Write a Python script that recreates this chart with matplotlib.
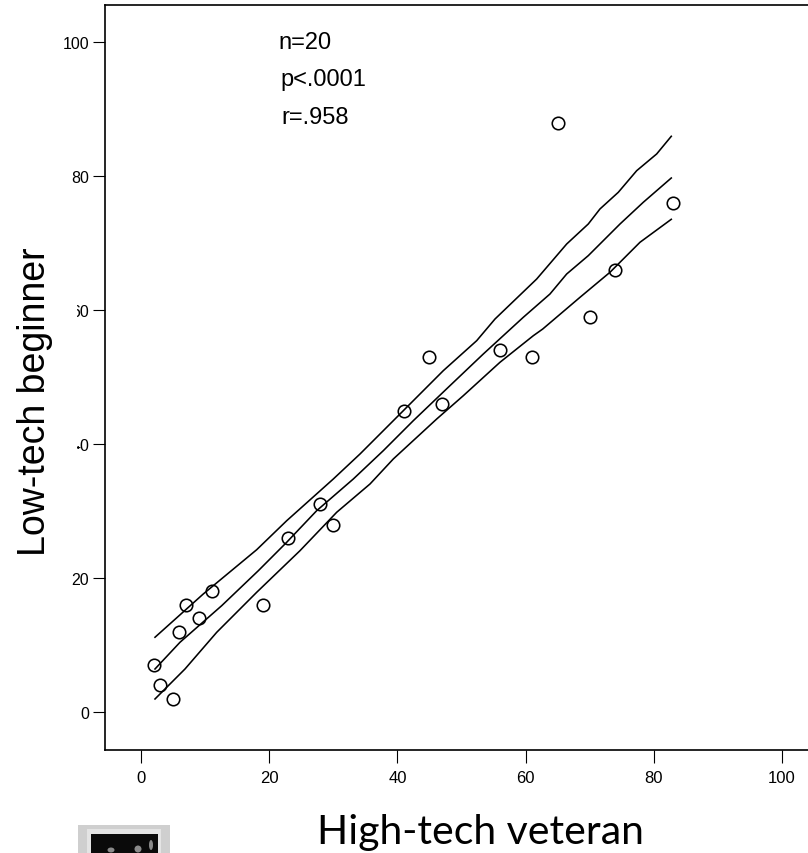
import matplotlib
matplotlib.use("Agg")
import matplotlib.pyplot as plt
from matplotlib.patches import Rectangle, Ellipse

# --- data ---
veteran = [2, 3, 5, 6, 7, 9, 11, 19, 23, 28, 30, 41, 45, 47, 56, 61, 65, 70, 74, 83]
beginner = [7, 4, 2, 12, 16, 14, 18, 16, 26, 31, 28, 45, 53, 46, 54, 53, 88, 59, 66, 76]

upper_x = [2.18, 9.72, 18.05, 22.73, 30.0, 34.17, 40.92, 47.16, 52.37, 55.23, 61.73, 66.41, 69.78, 71.6, 74.46, 77.33, 80.45, 82.73]
upper_y = [11.16, 17.63, 24.24, 28.57, 34.8, 38.54, 45.0, 50.98, 55.46, 58.7, 64.67, 69.9, 72.89, 75.13, 77.62, 80.85, 83.35, 85.99]
fit_x = [2.18, 6.08, 12.59, 18.3, 22.73, 27.41, 33.12, 37.8, 42.48, 48.2, 53.4, 59.64, 63.8, 66.41, 69.78, 74.73, 78.36, 82.73]
fit_y = [6.42, 10.41, 15.88, 21.1, 25.35, 30.07, 34.8, 39.03, 43.51, 48.74, 53.47, 58.95, 62.43, 65.42, 68.16, 72.89, 76.13, 79.76]
lower_x = [2.18, 6.86, 11.81, 18.05, 24.8, 30.53, 35.73, 39.36, 46.13, 50.28, 56.0, 61.2, 62.67, 68.49, 73.17, 77.85, 82.73]
lower_y = [1.94, 6.42, 11.9, 17.88, 24.09, 29.83, 34.06, 37.79, 43.76, 47.24, 52.23, 56.2, 57.2, 61.94, 65.68, 70.16, 73.59]

ticks = [0, 20, 40, 60, 80, 100]
tick_labels = ["0", "20", "40", "60", "80", "100"]
stats = ["n=20", "p<.0001", "r=.958"]
x_title = "High-tech veteran"
y_title = "Low-tech beginner"

W, H = 808, 854
plt.rcParams["font.family"] = ["Liberation Sans", "DejaVu Sans"]
fig = plt.figure(figsize=(W / 100, H / 100), dpi=100, facecolor="white")


def fx(p):
    return p / W


def fy(p):
    return 1 - p / H


ax = fig.add_axes([fx(105), fy(751), fx(808) - fx(105), fy(6) - fy(751)])
ax.set_xlim(-5.62, 104.06)
ax.set_ylim(-5.68, 105.6)

ax.plot(upper_x, upper_y, color="black", lw=1.15)
ax.plot(fit_x, fit_y, color="black", lw=1.15)
ax.plot(lower_x, lower_y, color="black", lw=1.15)
ax.plot(veteran, beginner, ls="none", marker="o", ms=9, mfc="none", mec="black", mew=1.15)

ax.spines["right"].set_visible(False)
for s in ("left", "top", "bottom"):
    ax.spines[s].set_linewidth(1.2)
    ax.spines[s].set_color("black")

ax.set_xticks(ticks, tick_labels)
ax.set_yticks(ticks, tick_labels)
ax.tick_params(axis="x", length=9.5, width=0.8, pad=5, labelsize=12)
ax.tick_params(axis="y", length=9, width=0.8, pad=2.5, labelsize=11.5)

ax.set_xlabel(x_title, family=["Lato", "DejaVu Sans"], fontsize=29.5)
ax.xaxis.set_label_coords(fx(480), fy(844), transform=fig.transFigure)
ax.xaxis.label.set_va("baseline")
ax.set_ylabel(y_title, fontsize=27)
ax.yaxis.set_label_coords(fx(45), fy(402), transform=fig.transFigure)
ax.yaxis.label.set_va("baseline")

for label, x_px, y_px in zip(stats, (278, 280, 281), (49, 86, 124.5)):
    fig.text(fx(x_px), fy(y_px), label, fontsize=17, ha="left", va="baseline")

# white masks that clip the first digit of the 60 and 40 tick labels
masks = ((60, 302, 77, 322), (60, 436, 76.5, 456), (76.5, 436, 80, 446.5), (76.5, 450, 80, 456))
for x0, y0, x1, y1 in masks:
    fig.add_artist(Rectangle((fx(x0), fy(y1)), fx(x1) - fx(x0), fy(y0) - fy(y1),
                             transform=fig.transFigure, fc="white", ec="none", zorder=5))

# cropped thumbnail in the lower left corner
for (x0, y0, x1, y1, c) in ((78, 826, 170, 854, "#cfcfcf"), (87, 830, 161, 854, "#e4e4e4"),
                            (91, 835, 158, 854, "#0a0a0a")):
    fig.add_artist(Rectangle((fx(x0), fy(y1)), fx(x1) - fx(x0), fy(y0) - fy(y1),
                             transform=fig.transFigure, fc=c, ec="none", zorder=5))
for cx, cy, w, h in ((111, 851, 7, 5), (138, 850, 7, 7), (151, 846, 4, 10)):
    fig.add_artist(Ellipse((fx(cx), fy(cy)), w / W, h / H, transform=fig.transFigure,
                           fc="#8a8a8a", ec="none", zorder=6))

fig.savefig("out.png", dpi=100)
